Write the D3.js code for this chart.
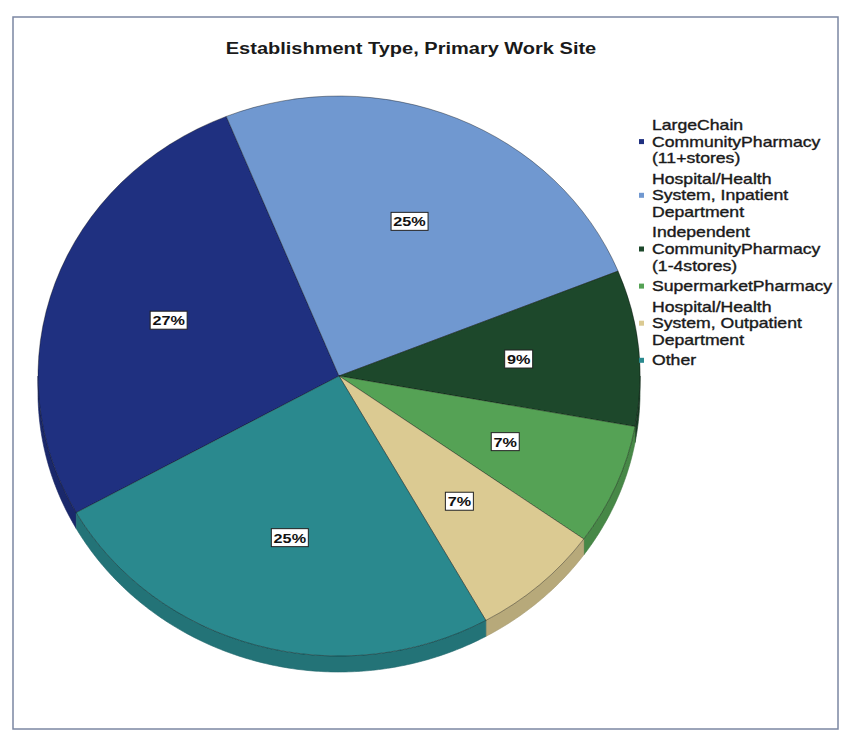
<!DOCTYPE html>
<html>
<head>
<meta charset="utf-8">
<script src="https://cdn.jsdelivr.net/npm/d3@7"></script>
<style>
  body { margin: 0; background: #fff; }
  svg { display: block; }
  text { font-family: Arial, "Liberation Sans", sans-serif; }
</style>
</head>
<body>
<svg id="chart" width="851" height="732"></svg>
<script>
// Establishment type of the primary work site, share of respondents (%)
const categories = [
  "LargeChain\nCommunityPharmacy\n(11+stores)",
  "Hospital/Health\nSystem, Inpatient\nDepartment",
  "Independent\nCommunityPharmacy\n(1-4stores)",
  "SupermarketPharmacy",
  "Hospital/Health\nSystem, Outpatient\nDepartment",
  "Other"
];
const shares = [27, 25, 9, 7, 7, 25];
const sliceColors = ["#1f3080", "#7098d0", "#1d482b", "#55a255", "#dbca92", "#2a898e"];
const chartTitle = "Establishment Type, Primary Work Site";

const svg = d3.select("#chart");

// outer frame
svg.append("rect")
  .attr("x", 13).attr("y", 17).attr("width", 825).attr("height", 712)
  .attr("fill", "#fff").attr("stroke", "#7b87a2").attr("stroke-width", 1.5);

svg.append("text")
  .attr("transform", "translate(411,54) scale(1.25,1)")
  .attr("text-anchor", "middle")
  .attr("font-size", 16).attr("font-weight", "bold").attr("fill", "#1a1a1a")
  .text(chartTitle);

// tilted pie: elliptical top face with a short rim in front
const cx = 339, cy = 376, rx = 301, ry = 280, depth = 16;
const k = ry / rx;
const start = -119.2 * Math.PI / 180;
const pie = d3.pie().sort(null).value(d => d)
  .startAngle(start).endAngle(start + 2 * Math.PI);
const arcs = pie(shares);

const pt = (a, dy = 0) => [cx + rx * Math.sin(a), cy - ry * Math.cos(a) + dy];
const line = d3.line();

const rim = svg.append("g");
arcs.forEach((d, i) => {
  // only the part of the rim facing the viewer (lower half of the ellipse)
  [[Math.PI / 2, 3 * Math.PI / 2], [-3 * Math.PI / 2, -Math.PI / 2]].forEach(([lo, hi]) => {
    const a0 = Math.max(d.startAngle, lo), a1 = Math.min(d.endAngle, hi);
    if (a1 <= a0) return;
    const n = Math.max(2, Math.ceil((a1 - a0) / 0.01));
    const angs = d3.range(n + 1).map(j => a0 + (a1 - a0) * j / n);
    const pts = angs.map(a => pt(a)).concat(angs.slice().reverse().map(a => pt(a, depth)));
    rim.append("path")
      .attr("d", line(pts) + "Z")
      .attr("fill", d3.color(sliceColors[i]).darker(0.5))
      .attr("stroke", d3.color(sliceColors[i]).darker(0.8))
      .attr("stroke-width", 0.6);
  });
});

const arc = d3.arc().innerRadius(0).outerRadius(rx);
const face = svg.append("g").attr("transform", `translate(${cx},${cy}) scale(1,${k})`);
face.selectAll("path").data(arcs).join("path")
  .attr("d", arc)
  .attr("fill", (d, i) => sliceColors[i])
  .attr("stroke", "rgba(0,0,0,0.45)")
  .attr("stroke-width", 0.8)
  .attr("vector-effect", "non-scaling-stroke");

// percentage labels in white boxes
const labelArc = d3.arc().innerRadius(rx * 0.6).outerRadius(rx * 0.6);
const labels = svg.append("g");
arcs.forEach(d => {
  const [x, y] = labelArc.centroid(d);
  const px = cx + x, py = cy + y * k;
  const txt = d.data + "%";
  const w = txt.length === 3 ? 37 : 28;
  labels.append("rect")
    .attr("x", px - w / 2).attr("y", py - 9).attr("width", w).attr("height", 18)
    .attr("fill", "#fff").attr("stroke", "#222").attr("stroke-width", 1);
  labels.append("text")
    .attr("transform", `translate(${px},${py + 5}) scale(1.2,1)`)
    .attr("text-anchor", "middle")
    .attr("font-size", 13.5).attr("font-weight", "bold").attr("fill", "#111")
    .text(txt);
});

// legend
const legend = svg.append("g");
const lineH = 16.6, entryGap = 20.5;
let yc = 125;
categories.forEach((c, i) => {
  const lines = c.split("\n");
  const mid = yc + (lines.length - 1) * lineH / 2;
  legend.append("rect")
    .attr("x", 639).attr("y", mid - 2.5).attr("width", 5).attr("height", 5)
    .attr("fill", sliceColors[i]);
  lines.forEach((t, j) => {
    legend.append("text")
      .attr("transform", `translate(652,${yc + j * lineH + 5}) scale(1.26,1)`)
      .attr("font-size", 14).attr("fill", "#1a1a1a")
      .attr("stroke", "#1a1a1a").attr("stroke-width", 0.35)
      .text(t);
  });
  yc += (lines.length - 1) * lineH + entryGap;
});
</script>
</body>
</html>
